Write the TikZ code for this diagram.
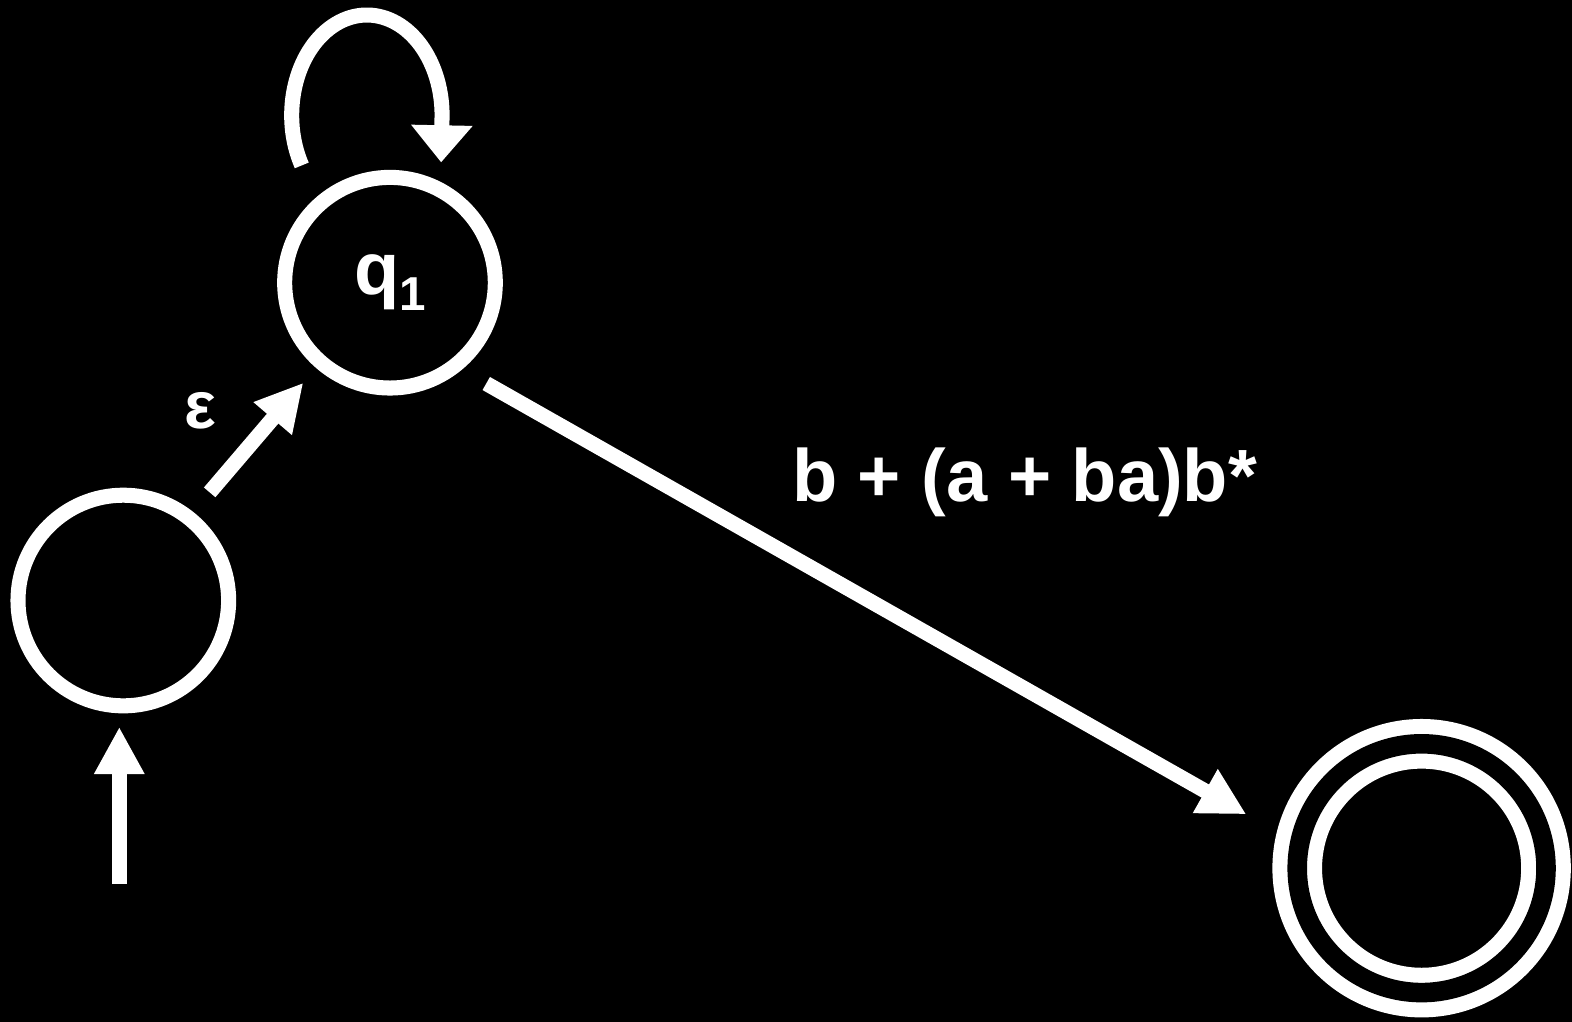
\documentclass[tikz,border=0pt]{standalone}
\usepackage{fontspec}
\setmainfont{Liberation Sans}
\usetikzlibrary{arrows.meta}

\tikzset{
	state/.style={circle, draw=white, line width=0.15cm, inner sep=0pt, outer sep=0pt, minimum size=2.1cm},
	finalstate/.style={state, double=black, double distance=0.195cm, minimum size=2.48cm},
	trans/.style={draw=white, line width=0.15cm, -{Triangle[length=0.47cm, width=0.47cm]}},
	looptip/.style={-{Triangle[length=0.37cm, width=0.59cm]}}
}

\begin{document}
\begin{tikzpicture}[x=0.01cm, y=-0.01cm, font=\bfseries, text=white]
		\fill[black] (0,0) rectangle (1568,1019);
		\useasboundingbox (0,0) rectangle (1568,1019);
		% states
		\node[state] (q0) at (123,599) {};
		\node[state, font=\bfseries\fontsize{21}{21}\selectfont] (q1) at (389,282)
			{q\raisebox{-0.16cm}{\fontsize{13.5}{13.5}\selectfont 1}};
		\node[finalstate] (q2) at (1418,866) {};
		\coordinate (start) at (119,882);
		% transitions
		\draw[trans, shorten >=0.21cm] (start) -- (start |- q0.south);
		\draw[trans, shorten <=0.33cm, shorten >=0.27cm] (q0.52) -- (q1.229);
		\draw[trans, shorten <=0.36cm, shorten >=0.61cm] (q1.-52) -- (q2.169);
		\draw[trans, looptip, shift={(q1.center)}] (-88,-117)
			arc[start angle=150, end angle=360, x radius=75, y radius=100] -- (51,-120);
		% labels
		\node[font=\bfseries\fontsize{19}{19}\selectfont] (eps) at (200,410) {ε};
		\node[anchor=base, font=\bfseries\fontsize{21}{21}\selectfont] (lbl) at (1022,500) {b + (a + ba)b*};
	\end{tikzpicture}
\end{document}
